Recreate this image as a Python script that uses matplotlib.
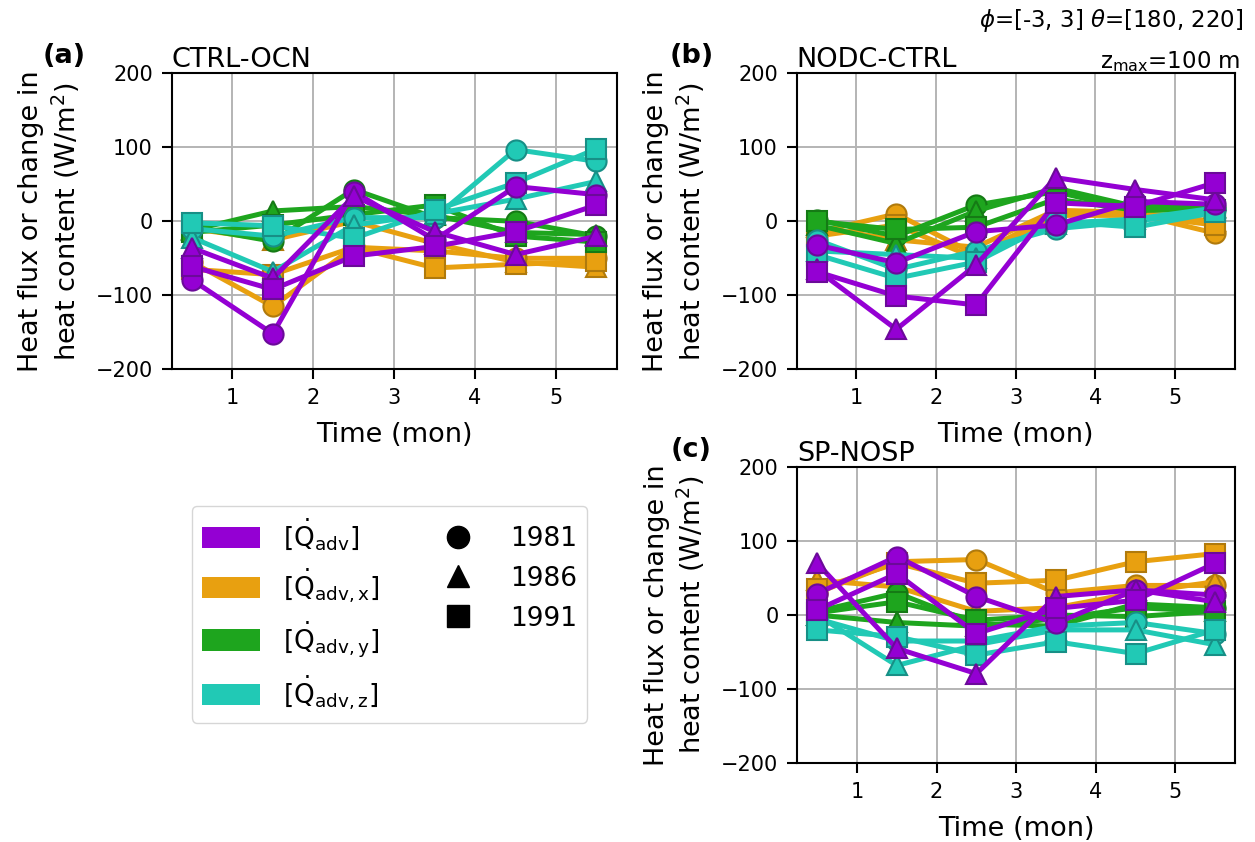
import matplotlib
matplotlib.use("Agg")
import matplotlib.pyplot as plt
from matplotlib.patches import Patch
from matplotlib.lines import Line2D

# ---------------- data ----------------
time_mon = [0.5, 1.5, 2.5, 3.5, 4.5, 5.5]
years = ["1981", "1986", "1991"]
year_markers = ["o", "^", "s"]

var_labels = [r"[$\dot{\mathrm{Q}}_{\mathrm{adv}}$]",
              r"[$\dot{\mathrm{Q}}_{\mathrm{adv,x}}$]",
              r"[$\dot{\mathrm{Q}}_{\mathrm{adv,y}}$]",
              r"[$\dot{\mathrm{Q}}_{\mathrm{adv,z}}$]"]
var_colors = ["#9400d3", "#e8a010", "#1ea51e", "#21c9b5"]
var_edges = ["#6b0a99", "#b07a0c", "#157a15", "#178f86"]

panel_titles = ["CTRL-OCN", "NODC-CTRL", "SP-NOSP"]
panel_tags = ["(a)", "(b)", "(c)"]

# rows: 1981, 1986, 1991
a_adv = [[-79, -152, 40, -25, 47, 36], [-36, -77, 34, -14, -45, -20], [-61, -92, -47, -34, -14, 22]]
a_advx = [[-55, -115, -35, -40, -50, -50], [-10, -25, 0, -30, -55, -62], [-65, -72, -35, -63, -58, -54]]
a_advy = [[-8, -27, 43, 5, 0, -20], [-12, 14, 20, 8, -15, -18], [-15, -5, 9, 22, -20, -28]]
a_advz = [[-10, -20, 5, 5, 97, 81], [-22, -68, -5, 10, 30, 54], [-2, -6, -23, 15, 52, 98]]

b_adv = [[-32, -56, -14, -5, 27, 23], [-65, -146, -59, 59, 43, 29], [-68, -101, -113, 25, 20, 52]]
b_advx = [[-15, 10, -45, 10, 10, -16], [-8, -25, -35, 15, 12, 0], [-20, -5, -50, 8, 8, -5]]
b_advy = [[2, -20, 22, 40, 15, 18], [-5, -30, 14, 45, 20, 20], [0, -11, -8, 30, 15, 15]]
b_advz = [[-25, -65, -40, -10, 0, 15], [-40, -45, -50, -3, 3, 18], [-45, -77, -55, 0, -8, 12]]

c_adv = [[29, 79, 25, -11, 34, 27], [70, -45, -79, 25, 34, 18], [7, 56, -25, 9, 20, 70]]
c_advx = [[30, 72, 75, 30, 40, 40], [47, 38, 5, 10, 30, 45], [35, 70, 43, 47, 72, 83]]
c_advy = [[5, 30, -12, -15, 15, 10], [0, -10, -15, -5, 10, 5], [3, 18, -7, 0, -2, 5]]
c_advz = [[-5, -35, -35, -15, -10, -25], [0, -68, -40, -20, -20, -40], [-20, -29, -54, -36, -52, -20]]

panels = [[a_adv, a_advx, a_advy, a_advz],
          [b_adv, b_advx, b_advy, b_advz],
          [c_adv, c_advx, c_advy, c_advz]]

# ---------------- figure ----------------
plt.rcParams["font.family"] = ["DejaVu Sans"]
plt.rcParams["mathtext.fontset"] = "dejavusans"

fig = plt.figure(figsize=(12.55, 8.42), dpi=100)
rects = [[0.1368, 0.5614, 0.3546, 0.3515],
         [0.6348, 0.5614, 0.3492, 0.3515],
         [0.6353, 0.0935, 0.3488, 0.3520]]

LABEL_FS = 19.5
TICK_FS = 15

# plotting order: components first, total last
draw_order = [1, 2, 3, 0]

for p, rect in enumerate(rects):
    ax = fig.add_axes(rect)
    for vi in draw_order:
        series = panels[p][vi]
        for yi in range(3):
            ax.plot(time_mon, series[yi], color=var_colors[vi], lw=3.6,
                    marker=year_markers[yi], ms=14.5, mfc=var_colors[vi],
                    mec=var_edges[vi], mew=1.5, zorder=2)
    ax.set_ylim(-200, 200)
    ax.set_yticks([-200, -100, 0, 100, 200])
    ax.set_xticks([1, 2, 3, 4, 5])
    ax.grid(True, color="#b4b4b4", lw=1.4)
    ax.set_axisbelow(True)
    for s in ax.spines.values():
        s.set_linewidth(1.5)
    ax.tick_params(labelsize=TICK_FS, length=7.5, width=1.5, pad=6)
    ax.set_xlabel("Time (mon)", fontsize=LABEL_FS, labelpad=10)
    ax.set_ylabel("Heat flux or change in\nheat content (W/m$^2$)",
                  fontsize=LABEL_FS, labelpad=10)
    ax.set_title(panel_titles[p], loc="left", fontsize=LABEL_FS, pad=3.5)
    ax.text(-0.29, 1.035, panel_tags[p], transform=ax.transAxes,
            fontsize=LABEL_FS, fontweight="bold", ha="left", va="baseline")
    if p == 1:
        ax.text(1.012, 1.0 + 5.0 / 296, "z$_{\\mathrm{max}}$=100 m",
                transform=ax.transAxes, ha="right", va="baseline", fontsize=16.5)
        fig.text(0.9904, 1 - 27.0 / 842, "$\\phi$=[-3, 3] $\\theta$=[180, 220]",
                 ha="right", va="baseline", fontsize=16.5)

# ---------------- legend ----------------
handles = [Patch(facecolor=c, edgecolor="none") for c in var_colors]
handles += [Line2D([], [], ls="none", marker=m, color="black", ms=16) for m in year_markers]
labels = var_labels + years
fig.legend(handles, labels, ncol=2, loc="upper left",
           bbox_to_anchor=(0.1527, 0.399), borderaxespad=0,
           fontsize=19, labelspacing=0.52, handlelength=2.2, handleheight=0.85,
           columnspacing=1.9, handletextpad=0.85, borderpad=0.4,
           frameon=True, edgecolor="#cccccc")

fig.savefig("out.png", dpi=100)
